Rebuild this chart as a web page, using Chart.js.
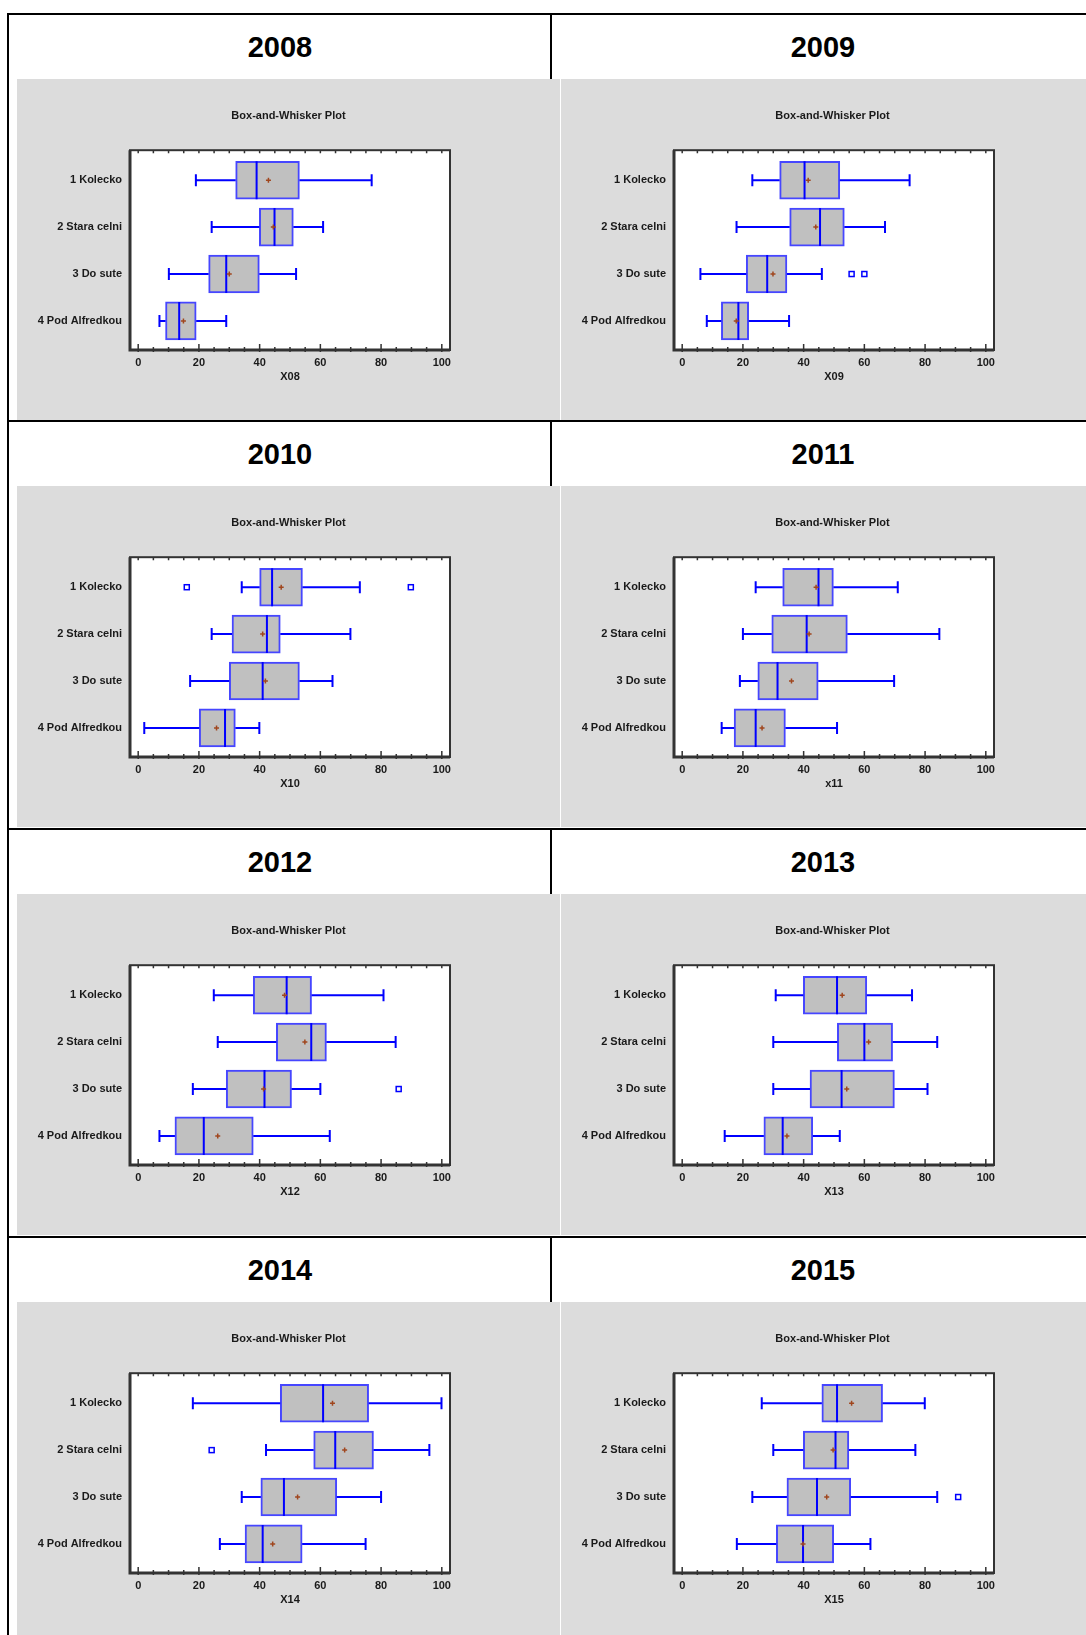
<!DOCTYPE html>
<html>
<head>
<meta charset="utf-8">
<script src="https://cdn.jsdelivr.net/npm/chart.js@4.4.1/dist/chart.umd.min.js"></script>
<style>
  body { margin: 0; background: #fff; }
  #page { position: relative; width: 1086px; height: 1635px; overflow: hidden; font-family: 'Liberation Sans', Arial, sans-serif; }
  .line { position: absolute; background: #000; }
  .year { position: absolute; width: 542px; text-align: center; font-weight: bold; font-size: 29px; line-height: 34px; color: #000; }
  canvas { position: absolute; }
</style>
</head>
<body>
<div id="page"></div>
<script>
// categories and labels
const categories = ['1 Kolecko', '2 Stara celni', '3 Do sute', '4 Pod Alfredkou'];
const years = ['2008', '2009', '2010', '2011', '2012', '2013', '2014', '2015'];
const axisTitles = ['X08', 'X09', 'X10', 'x11', 'X12', 'X13', 'X14', 'X15'];
const xTicks = [0, 20, 40, 60, 80, 100];

// [low whisker, Q1, median, Q3, high whisker] per category
const stats2008 = [[19.0, 32.1, 39.0, 53.1, 76.9], [24.2, 39.9, 44.9, 51.1, 60.9], [10.1, 23.2, 29.0, 39.9, 52.0], [7.0, 9.0, 13.5, 19.1, 29.0]];
const means2008 = [42.9, 44.5, 30.0, 14.9];
const outliers2008 = [[], [], [], []];

const stats2009 = [[23.1, 32.1, 40.3, 51.9, 74.9], [17.9, 35.4, 45.4, 53.4, 66.8], [6.0, 21.1, 28.0, 34.5, 46.0], [8.1, 12.9, 18.5, 21.9, 35.2]];
const means2009 = [41.5, 44.0, 29.9, 17.8];
const outliers2009 = [[], [], [55.8, 60.0], []];

const stats2010 = [[34.1, 40.0, 44.1, 54.1, 73.0], [24.2, 30.9, 42.4, 46.8, 69.9], [17.1, 30.0, 41.0, 53.1, 64.0], [2.0, 20.1, 28.6, 32.0, 39.9]];
const means2010 = [47.1, 41.0, 41.9, 25.8];
const outliers2010 = [[16.0, 89.8], [], [], []];

const stats2011 = [[24.2, 33.1, 44.9, 49.8, 71.0], [20.0, 29.5, 41.0, 54.4, 84.7], [19.0, 24.9, 31.4, 44.8, 69.8], [13.0, 17.1, 24.2, 34.0, 51.0]];
const means2011 = [44.1, 41.8, 36.0, 26.3];
const outliers2011 = [[], [], [], []];

const stats2012 = [[24.9, 37.9, 48.9, 57.1, 80.8], [26.2, 45.5, 57.0, 62.0, 84.8], [18.0, 29.0, 41.6, 50.5, 60.0], [7.0, 12.1, 21.6, 37.9, 63.1]];
const means2012 = [48.2, 54.9, 41.3, 26.2];
const outliers2012 = [[], [], [85.8], []];

const stats2013 = [[30.8, 39.9, 51.0, 60.8, 75.7], [30.0, 51.1, 60.0, 69.3, 84.0], [30.0, 42.1, 52.5, 69.9, 80.8], [14.0, 26.9, 33.1, 43.0, 51.9]];
const means2013 = [52.7, 61.4, 54.2, 34.5];
const outliers2013 = [[], [], [], []];

const stats2014 = [[18.0, 46.8, 60.9, 75.9, 99.9], [42.1, 57.8, 64.9, 77.5, 95.9], [34.1, 40.4, 48.0, 65.4, 80.0], [26.9, 35.2, 41.0, 54.0, 74.9]];
const means2014 = [64.0, 68.0, 52.5, 44.3];
const outliers2014 = [[], [24.2], [], []];

const stats2015 = [[26.2, 46.0, 51.0, 66.0, 79.9], [30.0, 39.9, 50.5, 54.9, 76.8], [23.1, 34.5, 44.4, 55.5, 84.0], [18.0, 31.0, 39.8, 49.9, 62.0]];
const means2015 = [55.8, 49.7, 47.6, 39.8];
const outliers2015 = [[], [], [90.9], []];

const panels = [
  { stats: stats2008, means: means2008, outliers: outliers2008 },
  { stats: stats2009, means: means2009, outliers: outliers2009 },
  { stats: stats2010, means: means2010, outliers: outliers2010 },
  { stats: stats2011, means: means2011, outliers: outliers2011 },
  { stats: stats2012, means: means2012, outliers: outliers2012 },
  { stats: stats2013, means: means2013, outliers: outliers2013 },
  { stats: stats2014, means: means2014, outliers: outliers2014 },
  { stats: stats2015, means: means2015, outliers: outliers2015 }
];

const page = document.getElementById('page');
const rowTops = [13, 420, 828, 1236];
const FONT = "'Liberation Sans', Arial, sans-serif";

function addLine(left, top, width, height) {
  const d = document.createElement('div');
  d.className = 'line';
  d.style.left = left + 'px'; d.style.top = top + 'px';
  d.style.width = width + 'px'; d.style.height = height + 'px';
  page.appendChild(d);
}

// table borders
addLine(7, 13, 2, 1622);
rowTops.forEach(t => {
  addLine(7, t, 1079, 2);
  addLine(550, t, 2, 66);
});

// whiskers, medians, means, outliers and the frame, all placed through the scales
function makeBoxPlugin(panel) {
  return {
    id: 'boxPlot',
    beforeDraw(chart) {
      const { ctx, chartArea: a } = chart;
      ctx.save();
      ctx.fillStyle = '#dcdcdc';
      ctx.fillRect(0, 0, chart.width, chart.height);
      ctx.fillStyle = '#fff';
      ctx.fillRect(a.left, a.top, a.right - a.left, a.bottom - a.top);
      ctx.restore();
    },
    afterDatasetsDraw(chart) {
      const { ctx, chartArea: a, scales: { x, y } } = chart;
      ctx.save();
      panel.stats.forEach((s, i) => {
        const cy = y.getPixelForValue(i + 1);
        const [lo, q1, med, q3, hi] = s.map(v => x.getPixelForValue(v));
        ctx.strokeStyle = '#0000ff';
        ctx.lineWidth = 2;
        ctx.beginPath();
        ctx.moveTo(lo, cy); ctx.lineTo(q1, cy);
        ctx.moveTo(q3, cy); ctx.lineTo(hi, cy);
        ctx.moveTo(lo, cy - 6); ctx.lineTo(lo, cy + 6);
        ctx.moveTo(hi, cy - 6); ctx.lineTo(hi, cy + 6);
        ctx.moveTo(med, cy - 19); ctx.lineTo(med, cy + 19);
        ctx.stroke();

        const mx = x.getPixelForValue(panel.means[i]);
        ctx.strokeStyle = '#a0461e';
        ctx.lineWidth = 1.5;
        ctx.beginPath();
        ctx.moveTo(mx - 2.5, cy); ctx.lineTo(mx + 2.5, cy);
        ctx.moveTo(mx, cy - 2.5); ctx.lineTo(mx, cy + 2.5);
        ctx.stroke();

        ctx.strokeStyle = '#0000ff';
        ctx.fillStyle = '#fff';
        ctx.lineWidth = 1.5;
        panel.outliers[i].forEach(v => {
          const ox = x.getPixelForValue(v);
          ctx.fillRect(ox - 2.5, cy - 2.5, 5, 5);
          ctx.strokeRect(ox - 2.5, cy - 2.5, 5, 5);
        });
      });

      // frame
      ctx.strokeStyle = '#333';
      ctx.lineWidth = 2;
      ctx.strokeRect(a.left, a.top, a.right - a.left, a.bottom - a.top);
      ctx.lineWidth = 3;
      ctx.beginPath();
      ctx.moveTo(a.left, a.top); ctx.lineTo(a.left, a.bottom); ctx.lineTo(a.right, a.bottom);
      ctx.stroke();

      // inward tick marks every 5 units
      ctx.lineWidth = 1.5;
      ctx.beginPath();
      for (let v = 0; v <= 100; v += 5) {
        const tx = x.getPixelForValue(v);
        const major = xTicks.includes(v);
        ctx.moveTo(tx, a.bottom + 2); ctx.lineTo(tx, a.bottom - (major ? 6 : 3));
        ctx.moveTo(tx, a.top); ctx.lineTo(tx, a.top + 3);
      }
      ctx.stroke();
      ctx.restore();
    }
  };
}

const labelFont = { family: FONT, size: 11, weight: 'bold' };

panels.forEach((panel, k) => {
  const r = Math.floor(k / 2), c = k % 2;
  const top = rowTops[r];

  const yr = document.createElement('div');
  yr.className = 'year';
  yr.textContent = years[k];
  yr.style.left = (c === 0 ? 9 : 552) + 'px';
  yr.style.top = (top + 17) + 'px';
  page.appendChild(yr);

  const cv = document.createElement('canvas');
  cv.width = 543; cv.height = 341;
  cv.style.width = '543px'; cv.style.height = '341px';
  cv.style.left = (17 + c * 544) + 'px';
  cv.style.top = (top + 66) + 'px';
  page.appendChild(cv);

  new Chart(cv.getContext('2d'), {
    type: 'bar',
    data: {
      datasets: [{
        data: panel.stats.map((s, i) => ({ y: i + 1, x: [s[1], s[3]] })),
        backgroundColor: '#c0c0c0',
        borderColor: '#4646ff',
        borderWidth: 2,
        borderSkipped: false,
        barThickness: 38
      }]
    },
    options: {
      indexAxis: 'y',
      responsive: false,
      animation: false,
      layout: { padding: 0 },
      plugins: {
        legend: { display: false },
        tooltip: { enabled: false },
        title: {
          display: true,
          text: 'Box-and-Whisker Plot',
          color: '#1a1a1a',
          font: { family: FONT, size: 11, weight: 'bold' },
          padding: { top: 30, bottom: 28 }
        }
      },
      scales: {
        x: {
          type: 'linear',
          min: -2.7,
          max: 102.7,
          afterBuildTicks: s => { s.ticks = xTicks.map(v => ({ value: v })); },
          afterFit: s => { s.height = 70; },
          grid: { display: false, drawTicks: false },
          border: { display: false },
          ticks: { padding: 6, color: '#1a1a1a', font: labelFont, maxRotation: 0 },
          title: { display: true, text: axisTitles[k], color: '#1a1a1a', font: labelFont, padding: { top: 0, bottom: 36 } }
        },
        y: {
          type: 'linear',
          reverse: true,
          offset: false,
          min: 0.36,
          max: 4.62,
          afterBuildTicks: s => { s.ticks = categories.map((_, i) => ({ value: i + 1 })); },
          afterFit: s => { s.width = 113; },
          grid: { display: false, drawTicks: false },
          border: { display: false },
          ticks: { padding: 8, color: '#1a1a1a', font: labelFont, callback: v => categories[v - 1] }
        },
        // empty right-hand axis that keeps the gray margin right of the plot
        yRight: {
          type: 'linear',
          position: 'right',
          min: 0,
          max: 1,
          afterFit: s => { s.width = 110; },
          grid: { display: false, drawTicks: false },
          border: { display: false },
          ticks: { display: false }
        }
      }
    },
    plugins: [makeBoxPlugin(panel)]
  });
});
</script>
</body>
</html>
